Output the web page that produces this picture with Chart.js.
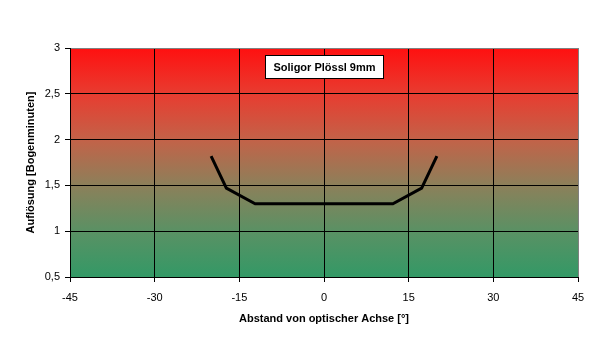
<!DOCTYPE html>
<html>
<head>
<meta charset="utf-8">
<script src="https://cdn.jsdelivr.net/npm/chart.js@4/dist/chart.umd.min.js"></script>
<style>
html,body{margin:0;padding:0;background:#fff;}
#wrap{width:604px;height:352px;position:relative;}
</style>
</head>
<body>
<div id="wrap"><canvas id="c" width="604" height="352"></canvas></div>
<script>
const chartTitle = "Soligor Plössl 9mm";
const xTitle = "Abstand von optischer Achse [°]";
const yTitle = "Auflösung [Bogenminuten]";
const angles = [-20, -17.3, -12.2, 12.2, 17.3, 20];
const resolution = [1.82, 1.47, 1.30, 1.30, 1.47, 1.82];
const xTicks = [-45, -30, -15, 0, 15, 30, 45];
const yTicks = [0.5, 1, 1.5, 2, 2.5, 3];

const FONT = "'Liberation Sans', Arial, sans-serif";

const bgPlugin = {
  id: 'bg',
  beforeDraw(chart) {
    const {ctx, chartArea: a} = chart;
    const g = ctx.createLinearGradient(0, a.top, 0, a.bottom);
    g.addColorStop(0, 'rgb(255,16,16)');
    g.addColorStop(0.2, 'rgb(232,60,48)');
    g.addColorStop(0.4, 'rgb(195,98,72)');
    g.addColorStop(0.6, 'rgb(140,128,90)');
    g.addColorStop(0.8, 'rgb(90,145,100)');
    g.addColorStop(1, 'rgb(51,153,102)');
    ctx.save();
    ctx.fillStyle = g;
    ctx.fillRect(a.left, a.top, a.right - a.left, a.bottom - a.top);
    ctx.restore();
  },
  afterDraw(chart) {
    const {ctx, chartArea: a} = chart;
    ctx.save();
    ctx.font = "bold 11px " + FONT;
    const w = ctx.measureText(chartTitle).width;
    const cx = (a.left + a.right) / 2 + 0.5;
    const bx = Math.round(cx - w / 2 - 8) + 0.5, by = 55.5, bw = Math.round(w + 16), bh = 23;
    ctx.fillStyle = '#fff';
    ctx.fillRect(bx, by, bw, bh);
    ctx.strokeStyle = '#000';
    ctx.lineWidth = 1;
    ctx.strokeRect(bx, by, bw, bh);
    ctx.fillStyle = '#000';
    ctx.textAlign = 'center';
    ctx.textBaseline = 'middle';
    ctx.fillText(chartTitle, bx + bw / 2, by + bh / 2 + 1);
    ctx.restore();
  }
};

new Chart(document.getElementById('c'), {
  type: 'scatter',
  data: {
    datasets: [{
      data: angles.map((x, i) => ({x, y: resolution[i]})),
      showLine: true,
      borderColor: '#000',
      borderWidth: 3,
      pointRadius: 0,
      fill: false,
      tension: 0
    }]
  },
  options: {
    responsive: false,
    animation: false,
    devicePixelRatio: 1,
    layout: {padding: {left: 0, right: 26, top: 48, bottom: 0}},
    plugins: {legend: {display: false}, tooltip: {enabled: false}},
    scales: {
      x: {
        type: 'linear', min: -45, max: 45,
        afterBuildTicks(s) { s.ticks = xTicks.map(v => ({value: v})); },
        afterFit(s) { s.height = 75; },
        ticks: {color: '#000', font: {family: FONT, size: 11}, padding: 9, maxRotation: 0},
        grid: {
          color: c => (c.tick && c.tick.value === 45) ? '#808080' : '#000',
          tickColor: '#000', tickLength: 5, lineWidth: 1
        },
        border: {color: '#000', width: 1},
        title: {display: true, text: xTitle, color: '#000', font: {family: FONT, size: 11, weight: 'bold'}, padding: {top: 0, bottom: 26}}
      },
      y: {
        type: 'linear', min: 0.5, max: 3,
        afterBuildTicks(s) { s.ticks = yTicks.map(v => ({value: v})); },
        afterFit(s) { s.width = 70; },
        ticks: {color: '#000', font: {family: FONT, size: 11}, padding: 5,
          callback: v => String(v).replace('.', ',')},
        grid: {
          color: c => (c.tick && c.tick.value === 3) ? '#808080' : '#000',
          tickColor: '#000', tickLength: 5, lineWidth: 1
        },
        border: {color: '#000', width: 1},
        title: {display: true, text: yTitle, color: '#000', font: {family: FONT, size: 11, weight: 'bold'}, padding: {top: 24, bottom: 0}}
      }
    }
  },
  plugins: [bgPlugin]
});
</script>
</body>
</html>
